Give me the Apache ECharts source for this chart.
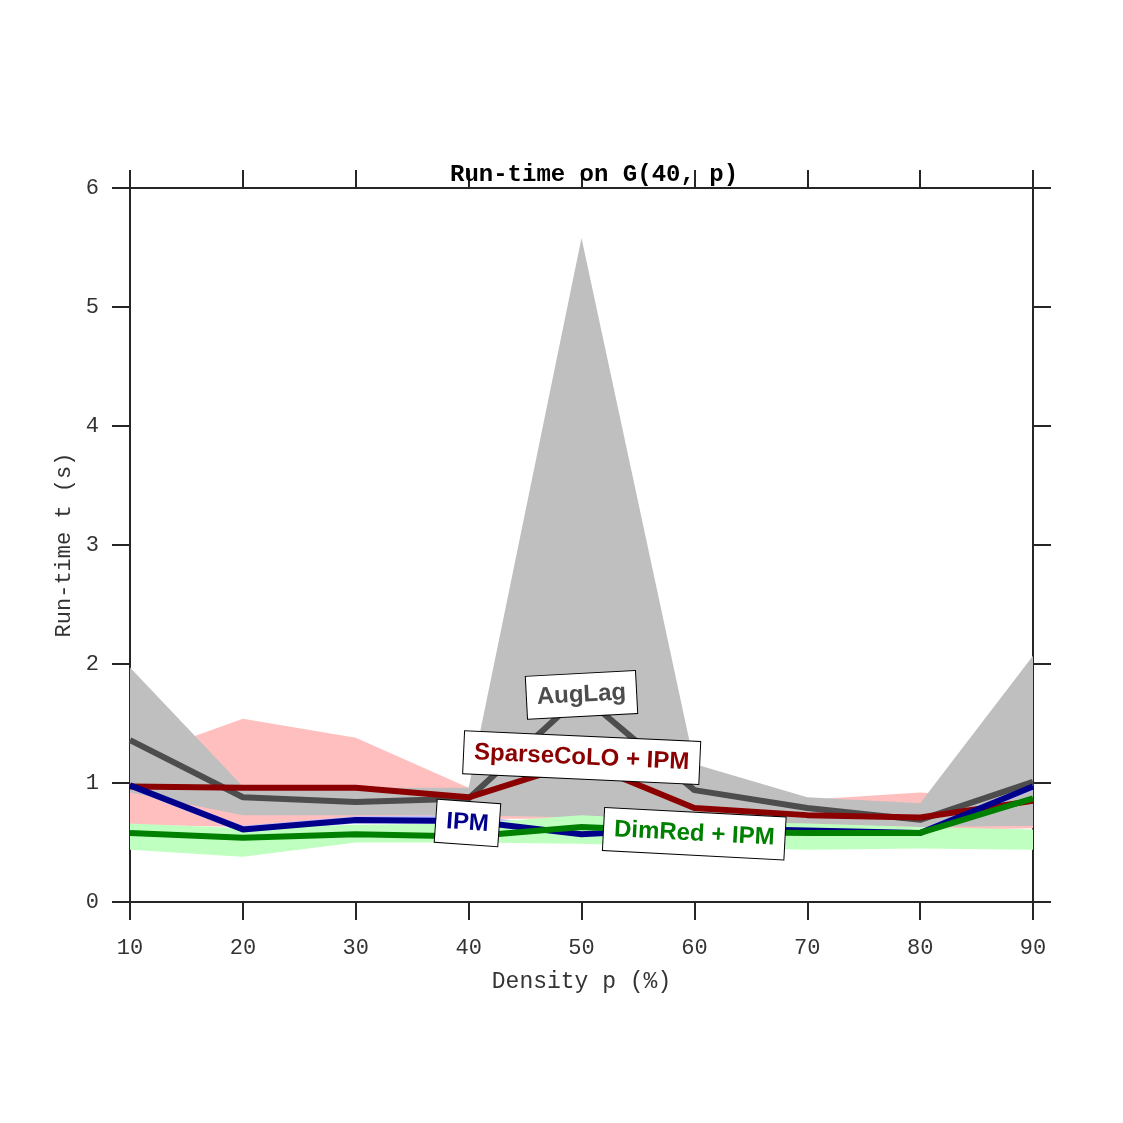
<!DOCTYPE html>
<html>
<head>
<meta charset="utf-8">
<title>Run-time on G(40, p)</title>
<script src="https://cdn.jsdelivr.net/npm/echarts@6/dist/echarts.min.js"></script>
<style>
  html, body { margin: 0; padding: 0; background: #fff; }
  #chart { width: 1123px; height: 1123px; }
</style>
</head>
<body>
<div id="chart"></div>
<script>
// 横轴：密度 p (%)
const density = ['10', '20', '30', '40', '50', '60', '70', '80', '90']

// AugLag
const augLag = [1.36, 0.88, 0.84, 0.87, 1.74, 0.94, 0.79, 0.69, 1.01]
const augLagHi = [1.97, 0.97, 0.96, 0.96, 5.58, 1.16, 0.88, 0.83, 2.07]
const augLagLo = [0.92, 0.73, 0.73, 0.73, 0.71, 0.68, 0.65, 0.63, 0.64]

// SparseCoLO + IPM
const sparse = [0.97, 0.96, 0.96, 0.88, 1.18, 0.79, 0.73, 0.71, 0.85]
const sparseHi = [1.20, 1.54, 1.38, 0.96, 1.30, 0.90, 0.86, 0.92, 0.86]
const sparseLo = [0.65, 0.63, 0.71, 0.70, 0.70, 0.70, 0.67, 0.60, 0.62]

// IPM
const ipm = [0.98, 0.61, 0.69, 0.68, 0.57, 0.62, 0.60, 0.58, 0.97]
const ipmHi = [1.00, 0.64, 0.72, 0.73, 0.62, 0.66, 0.63, 0.61, 1.00]
const ipmLo = [0.95, 0.58, 0.66, 0.65, 0.54, 0.58, 0.57, 0.55, 0.94]

// DimRed + IPM
const dimRed = [0.58, 0.54, 0.57, 0.55, 0.63, 0.59, 0.58, 0.58, 0.87]
const dimRedHi = [0.66, 0.62, 0.65, 0.66, 0.73, 0.68, 0.66, 0.63, 0.61]
const dimRedLo = [0.44, 0.38, 0.50, 0.50, 0.49, 0.46, 0.44, 0.45, 0.44]

const mono = 'Liberation Mono, Courier New, monospace'
const axisColor = '#262626'

// 带状区域：下界透明 + 差值堆叠填充
function band(name, lo, hi, color) {
  return [
    {
      name: name + '-lo',
      type: 'line',
      stack: name,
      symbol: 'none',
      silent: true,
      lineStyle: { width: 0, opacity: 0 },
      data: lo,
      z: 1
    },
    {
      name: name + '-band',
      type: 'line',
      stack: name,
      symbol: 'none',
      silent: true,
      lineStyle: { width: 0, opacity: 0 },
      areaStyle: { color, opacity: 1 },
      data: hi.map((v, i) => v - lo[i]),
      z: 1
    }
  ]
}

function line(name, values, color) {
  return {
    name,
    type: 'line',
    symbol: 'none',
    lineStyle: { width: 6, color },
    data: values,
    z: 3
  }
}

// 曲线标签（白底黑框）
function tag(text, idx, values, color, rotate, offset) {
  return {
    value: [idx, values[idx]],
    label: {
      show: true,
      position: 'inside',
      formatter: text,
      rotate,
      offset: offset || [0, 0],
      fontFamily: 'Liberation Sans, Arial, sans-serif',
      fontWeight: 'bold',
      fontSize: 24,
      color,
      backgroundColor: '#fff',
      borderColor: '#000',
      borderWidth: 1,
      padding: [9, 10]
    }
  }
}

const axisLine = { show: true, onZero: false, lineStyle: { color: axisColor, width: 2 } }
const axisTick = { show: true, inside: false, length: 18, lineStyle: { color: axisColor, width: 2 } }

const option = {
  animation: false,
  backgroundColor: '#fff',
  title: {
    text: 'Run-time on G(40, p)',
    left: 445,
    top: 158,
    textStyle: { fontFamily: mono, fontWeight: 'bold', fontSize: 24, color: '#000' }
  },
  grid: { left: 130, right: 90, top: 188, bottom: 221 },
  xAxis: [
    {
      type: 'category',
      data: density,
      boundaryGap: false,
      name: 'Density p (%)',
      nameLocation: 'middle',
      nameGap: 68,
      nameTextStyle: { fontFamily: mono, fontSize: 23, color: '#333' },
      axisLine,
      axisTick,
      splitLine: { show: false },
      axisLabel: { fontFamily: mono, fontSize: 22, color: '#333', margin: 35 }
    },
    {
      type: 'category',
      data: density,
      boundaryGap: false,
      position: 'top',
      axisLine,
      axisTick,
      splitLine: { show: false },
      axisLabel: { show: false }
    }
  ],
  yAxis: [
    {
      type: 'value',
      min: 0,
      max: 6,
      interval: 1,
      name: 'Run-time t (s)',
      nameLocation: 'middle',
      nameGap: 51,
      nameTextStyle: { fontFamily: mono, fontSize: 22, color: '#333' },
      axisLine,
      axisTick,
      splitLine: { show: false },
      axisLabel: { fontFamily: mono, fontSize: 22, color: '#333', margin: 31 }
    },
    {
      type: 'value',
      position: 'right',
      min: 0,
      max: 6,
      interval: 1,
      axisLine,
      axisTick,
      splitLine: { show: false },
      axisLabel: { show: false }
    }
  ],
  series: [
    ...band('sparse', sparseLo, sparseHi, '#ffbfbf'),
    ...band('augLag', augLagLo, augLagHi, '#bfbfbf'),
    ...band('ipm', ipmLo, ipmHi, '#bfbfff'),
    ...band('dimRed', dimRedLo, dimRedHi, '#bfffbf'),
    line('AugLag', augLag, '#4d4d4d'),
    line('SparseCoLO + IPM', sparse, '#8b0000'),
    line('IPM', ipm, '#00008b'),
    line('DimRed + IPM', dimRed, '#008000'),
    {
      name: 'labels',
      type: 'scatter',
      symbolSize: 0,
      silent: true,
      itemStyle: { opacity: 1 },
      z: 10,
      data: [
        tag('AugLag', 4, augLag, '#4d4d4d', 3),
        tag('SparseCoLO + IPM', 4, sparse, '#8b0000', -2.6, [0, -4]),
        tag('IPM', 3, ipm, '#00008b', -4, [-1, 2]),
        tag('DimRed + IPM', 5, dimRed, '#008000', -3, [0, 2])
      ]
    }
  ]
}

const chart = echarts.init(document.getElementById('chart'))
chart.setOption(option, true)
</script>
</body>
</html>
